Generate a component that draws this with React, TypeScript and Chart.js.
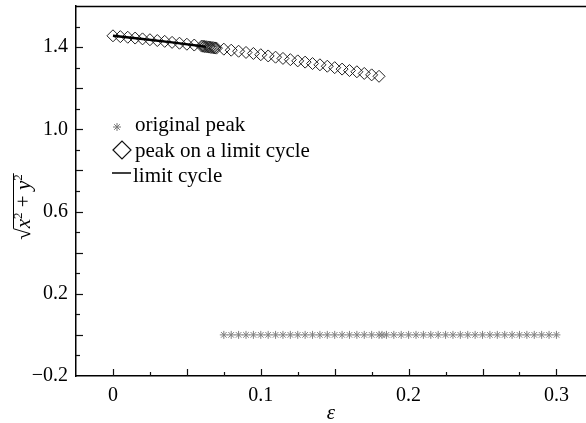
import React, { useEffect, useRef } from 'react';
import { Chart, registerables } from 'chart.js';
import { drawPoint } from 'chart.js/helpers';

Chart.register(...registerables);

// ---- data ----
const LIMIT_CYCLE_EPS = [0, 0.02, 0.04, 0.063];
const LIMIT_CYCLE_R = [1.455, 1.44, 1.423, 1.402];

const PEAK_EPS = [
  0, 0.005, 0.01, 0.015, 0.02, 0.025, 0.03, 0.035, 0.04, 0.045, 0.05, 0.055, 0.06,
  0.061, 0.062, 0.063, 0.064, 0.065, 0.066, 0.067, 0.068, 0.069,
  0.07, 0.075, 0.08, 0.085, 0.09, 0.095, 0.1, 0.105, 0.11, 0.115, 0.12, 0.125, 0.13,
  0.135, 0.14, 0.145, 0.15, 0.155, 0.16, 0.165, 0.17, 0.175, 0.18,
];
const PEAK_R = [
  1.455, 1.451, 1.448, 1.444, 1.44, 1.436, 1.432, 1.428, 1.423, 1.419, 1.414, 1.41, 1.405,
  1.404, 1.403, 1.402, 1.401, 1.4, 1.399, 1.398, 1.397, 1.396,
  1.395, 1.39, 1.385, 1.38, 1.374, 1.369, 1.363, 1.357, 1.351, 1.345, 1.339, 1.333, 1.327,
  1.32, 1.314, 1.307, 1.3, 1.293, 1.286, 1.28, 1.272, 1.265, 1.258,
];

const ORIGINAL_EPS = [
  0.075, 0.08, 0.085, 0.09, 0.095, 0.1, 0.105, 0.11, 0.115, 0.12, 0.125, 0.13, 0.135,
  0.14, 0.145, 0.15, 0.155, 0.16, 0.165, 0.17, 0.175, 0.18, 0.182, 0.185, 0.19, 0.195,
  0.2, 0.205, 0.21, 0.215, 0.22, 0.225, 0.23, 0.235, 0.24, 0.245, 0.25, 0.255, 0.26,
  0.265, 0.27, 0.275, 0.28, 0.285, 0.29, 0.295, 0.3,
];
const ORIGINAL_R = [
  0, 0, 0, 0, 0, 0, 0, 0, 0, 0, 0, 0, 0,
  0, 0, 0, 0, 0, 0, 0, 0, 0, 0, 0, 0, 0,
  0, 0, 0, 0, 0, 0, 0, 0, 0, 0, 0, 0, 0,
  0, 0, 0, 0, 0, 0, 0, 0,
];

const X_TICK_LABELS = [0, 0.1, 0.2, 0.3];
const Y_TICK_LABELS = [-0.2, 0.2, 0.6, 1.0, 1.4];
const X_MAJOR_TICKS = [0, 0.05, 0.1, 0.15, 0.2, 0.25, 0.3];
const X_MINOR_TICKS = [0.025, 0.075, 0.125, 0.175, 0.225, 0.275];
const Y_MAJOR_TICKS = [0, 0.2, 0.4, 0.6, 0.8, 1.0, 1.2, 1.4];
const Y_MINOR_TICKS = [-0.1, 0.1, 0.3, 0.5, 0.7, 0.9, 1.1, 1.3, 1.5];

const LEGEND_LABELS = ['original peak', 'peak on a limit cycle', 'limit cycle'];
const X_TITLE = 'ε';

const FONT = 'Liberation Serif';

const fmt = (v: number) => {
  if (Math.abs(v) < 1e-9) return '0';
  const s = Math.abs(v).toFixed(1);
  return v < 0 ? '\u2212' + s : s;
};

const zeroPad = (s: any) => {
  s.paddingTop = 0;
  s.paddingBottom = 0;
  s.paddingLeft = 0;
  s.paddingRight = 0;
};

const decorPlugin = {
  id: 'decor',
  afterDatasetsDraw(chart: any) {
    const { ctx, chartArea, scales } = chart;
    const xs = scales.x;
    const ys = scales.y;
    ctx.save();
    // top border
    ctx.strokeStyle = '#000';
    ctx.lineWidth = 1.5;
    ctx.beginPath();
    ctx.moveTo(chartArea.left, chartArea.top + 0.5);
    ctx.lineTo(chartArea.right, chartArea.top + 0.5);
    ctx.stroke();

    // inward ticks
    ctx.lineWidth = 1.2;
    ctx.strokeStyle = '#111';
    const xTick = (v: number, len: number) => {
      const px = Math.round(xs.getPixelForValue(v)) + 0.5;
      ctx.beginPath();
      ctx.moveTo(px, chartArea.bottom);
      ctx.lineTo(px, chartArea.bottom - len);
      ctx.stroke();
    };
    const yTick = (v: number, len: number) => {
      const py = Math.round(ys.getPixelForValue(v)) + 0.5;
      ctx.beginPath();
      ctx.moveTo(chartArea.left, py);
      ctx.lineTo(chartArea.left + len, py);
      ctx.stroke();
    };
    X_MAJOR_TICKS.forEach((v) => xTick(v, 7));
    X_MINOR_TICKS.forEach((v) => xTick(v, 4));
    Y_MAJOR_TICKS.forEach((v) => yTick(v, 7));
    Y_MINOR_TICKS.forEach((v) => yTick(v, 4));

    // legend
    const lx = chartArea.left;
    const ty = chartArea.top;
    ctx.strokeStyle = '#777';
    ctx.fillStyle = 'rgba(0,0,0,0)';
    ctx.lineWidth = 1;
    drawPoint(ctx, { pointStyle: 'star', radius: 4, borderWidth: 1, rotation: 0 } as any, lx + 41, ty + 121);
    ctx.strokeStyle = '#111';
    ctx.lineWidth = 1.2;
    drawPoint(ctx, { pointStyle: 'rectRot', radius: 9, borderWidth: 1.2, rotation: 0 } as any, lx + 46, ty + 144);
    ctx.strokeStyle = '#000';
    ctx.lineWidth = 1.5;
    ctx.beginPath();
    ctx.moveTo(lx + 36, ty + 167);
    ctx.lineTo(lx + 55, ty + 167);
    ctx.stroke();

    ctx.fillStyle = '#000';
    ctx.font = `21px "${FONT}"`;
    ctx.textBaseline = 'alphabetic';
    ctx.textAlign = 'left';
    ctx.fillText(LEGEND_LABELS[0], lx + 59, ty + 125);
    ctx.fillText(LEGEND_LABELS[1], lx + 59, ty + 151);
    ctx.fillText(LEGEND_LABELS[2], lx + 57, ty + 176);

    // y title: sqrt(x^2 + y^2), rotated
    const fs = 21;
    const sup = 13;
    ctx.translate(30, 207);
    ctx.rotate(-Math.PI / 2);
    const regular = `${fs}px "${FONT}"`;
    const italic = `italic ${fs}px "${FONT}"`;
    const supF = `${sup}px "${FONT}"`;
    const parts: [string, string, number][] = [
      ['\u221A', regular, 0],
      ['x', italic, 0],
      ['2', supF, -8],
      [' + ', regular, 0],
      ['y', italic, 0],
      ['2', supF, -8],
    ];
    let total = 0;
    const widths = parts.map(([t, f]) => {
      ctx.font = f;
      const w = ctx.measureText(t).width;
      total += w;
      return w;
    });
    let cx = -total / 2;
    ctx.font = regular;
    const radM = ctx.measureText('\u221A');
    const radTop = radM.actualBoundingBoxAscent || fs * 0.85;
    let overStart = 0;
    parts.forEach(([t, f, dy], i) => {
      ctx.font = f;
      ctx.fillText(t, cx, dy);
      if (i === 0) overStart = cx + widths[0] - 0.5;
      cx += widths[i];
    });
    ctx.strokeStyle = '#000';
    ctx.lineWidth = 1;
    ctx.beginPath();
    ctx.moveTo(overStart, -radTop + 0.5);
    ctx.lineTo(cx + 1, -radTop + 0.5);
    ctx.stroke();

    ctx.restore();
  },
};

export default function App() {
  const ref = useRef<HTMLCanvasElement | null>(null);
  useEffect(() => {
    document.body.style.margin = '0';
    document.documentElement.style.overflow = 'hidden';
    if (!ref.current) return;
    Chart.defaults.font.family = FONT;
    const chart = new Chart(ref.current, {
      type: 'scatter',
      data: {
        datasets: [
          {
            label: LEGEND_LABELS[2],
            data: LIMIT_CYCLE_EPS.map((x, i) => ({ x, y: LIMIT_CYCLE_R[i] })),
            showLine: true,
            borderColor: '#000',
            borderWidth: 2.5,
            pointRadius: 0,
            fill: false,
          },
          {
            label: LEGEND_LABELS[1],
            data: PEAK_EPS.map((x, i) => ({ x, y: PEAK_R[i] })),
            pointStyle: 'rectRot',
            pointRadius: 6,
            borderColor: '#222',
            borderWidth: 1,
            backgroundColor: 'rgba(0,0,0,0)',
          },
          {
            label: LEGEND_LABELS[0],
            data: ORIGINAL_EPS.map((x, i) => ({ x, y: ORIGINAL_R[i] })),
            pointStyle: 'star',
            pointRadius: 4,
            borderColor: '#808080',
            borderWidth: 1,
            backgroundColor: 'rgba(0,0,0,0)',
          },
        ],
      },
      options: {
        animation: false,
        responsive: false,
        maintainAspectRatio: false,
        layout: { autoPadding: false, padding: { top: 6, right: 0, left: 0, bottom: 0 } },
        plugins: { legend: { display: false }, tooltip: { enabled: false } },
        scales: {
          x: {
            type: 'linear',
            min: -0.025,
            max: 0.32,
            afterFit: (s: any) => {
              s.height = 47;
              zeroPad(s);
            },
            afterBuildTicks: (s: any) => {
              s.ticks = X_TICK_LABELS.map((v) => ({ value: v }));
            },
            grid: { display: false, drawTicks: false },
            border: { display: true, color: '#000', width: 1.5 },
            ticks: {
              color: '#000',
              font: { family: FONT, size: 20 },
              padding: 8,
              maxRotation: 0,
              autoSkip: false,
              callback: (v: any) => fmt(Number(v)),
            },
            title: {
              display: true,
              text: X_TITLE,
              color: '#000',
              font: { family: FONT, size: 21, style: 'italic' },
              padding: { top: 0, bottom: -3 },
            },
          },
          y: {
            type: 'linear',
            min: -0.2,
            max: 1.6,
            afterFit: (s: any) => {
              s.width = 76;
              zeroPad(s);
            },
            afterBuildTicks: (s: any) => {
              s.ticks = Y_TICK_LABELS.map((v) => ({ value: v }));
            },
            grid: { display: false, drawTicks: false },
            border: { display: true, color: '#000', width: 1.5 },
            ticks: {
              color: '#000',
              font: { family: FONT, size: 20 },
              padding: 8,
              autoSkip: false,
              callback: (v: any) => fmt(Number(v)),
            },
          },
        },
      },
      plugins: [decorPlugin],
    });
    return () => chart.destroy();
  }, []);
  return (
    <div style={{ width: 586, height: 423 }}>
      <canvas ref={ref} width={586} height={423} style={{ display: 'block' }} />
    </div>
  );
}
